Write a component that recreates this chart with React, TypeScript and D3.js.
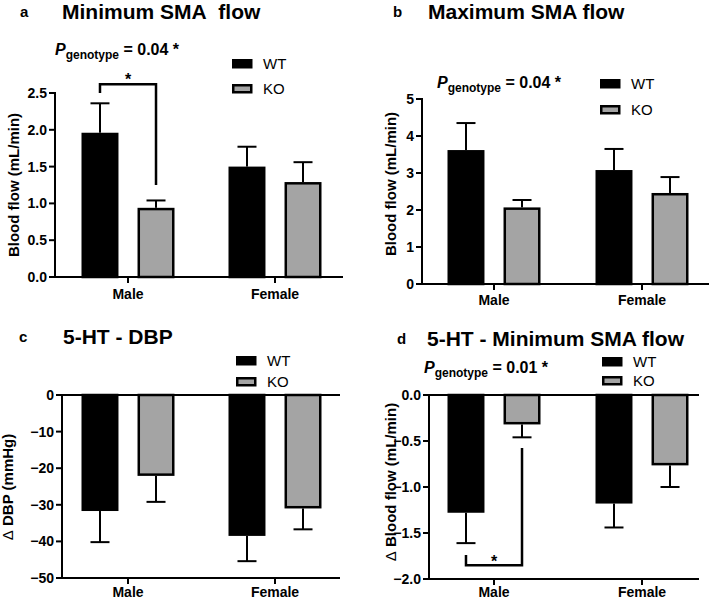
import * as d3 from "d3";

// categories
const groups = ["Male", "Female"];
const genotypes = ["WT", "KO"];

// a: minimum SMA flow (mL/min), mean and SEM
const minFlowWT = [1.96, 1.5];
const minFlowWTErr = [0.4, 0.27];
const minFlowKO = [0.94, 1.29];
const minFlowKOErr = [0.1, 0.27];

// b: maximum SMA flow (mL/min)
const maxFlowWT = [3.62, 3.08];
const maxFlowWTErr = [0.73, 0.57];
const maxFlowKO = [2.07, 2.46];
const maxFlowKOErr = [0.2, 0.43];

// c: 5-HT change in DBP (mmHg)
const dbpWT = [-31.7, -38.5];
const dbpWTErr = [8.5, 6.9];
const dbpKO = [-22.1, -31.0];
const dbpKOErr = [7.1, 5.7];

// d: 5-HT change in minimum SMA flow (mL/min)
const dMinWT = [-1.28, -1.18];
const dMinWTErr = [0.33, 0.26];
const dMinKO = [-0.32, -0.765];
const dMinKOErr = [0.14, 0.235];

// tick values
const ticksA = [0, 0.5, 1, 1.5, 2, 2.5];
const ticksB = [0, 1, 2, 3, 4, 5];
const ticksC = [0, -10, -20, -30, -40, -50];
const ticksD = [0, -0.5, -1, -1.5, -2];

const FONT = "'Liberation Sans', Arial, sans-serif";
const GRAY = "#a4a4a4";

type Bracket = { from: number; left: number; right: number; star: "above" | "below" };

type PanelProps = {
  letter: string;
  title: string;
  letterX: number;
  titleX: number;
  titleY: number;
  yLabel: string;
  delta?: boolean;
  yLabelX: number;
  yLabelY: number;
  axisX: number;
  xEnd: number;
  yRange: [number, number];
  domain: [number, number];
  ticks: number[];
  fmt: (v: number) => string;
  centers: [number, number];
  catY: number;
  wt: number[];
  wtErr: number[];
  ko: number[];
  koErr: number[];
  legendX: number;
  legendY: [number, number];
  pText?: string;
  pX?: number;
  pY?: number;
  bracket?: Bracket;
};

function Panel(p: PanelProps) {
  const y = d3.scaleLinear().domain(p.domain).range(p.yRange);
  const x = d3.scalePoint<string>().domain(groups).range(p.centers);
  const inner = d3.scaleBand<string>().domain(genotypes).range([-46.5, 46.5]).paddingInner(0.34);
  const bw = inner.bandwidth();
  const negative = p.domain[1] <= 0;
  const axisY = negative ? y(p.domain[0]) : y(0);
  const values: Record<string, number[][]> = {
    WT: [p.wt, p.wtErr],
    KO: [p.ko, p.koErr],
  };

  return (
    <g>
      <text x={p.letterX} y={p.titleY - 2} fontSize={15} fontWeight="bold">
        {p.letter}
      </text>
      <text x={p.titleX} y={p.titleY} fontSize={21} fontWeight="bold">
        {p.title}
      </text>

      {p.pText && (
        <text x={p.pX} y={p.pY} fontSize={16} fontWeight="bold">
          <tspan fontStyle="italic">P</tspan>
          <tspan fontSize={12} dy={4}>genotype</tspan>
          <tspan dy={-4}>{` = ${p.pText} *`}</tspan>
        </text>
      )}

      {/* legend */}
      {genotypes.map((g, i) => (
        <g key={g}>
          <rect
            x={p.legendX + 1.25}
            y={p.legendY[i] + 1.25}
            width={18}
            height={7}
            fill={g === "WT" ? "#000" : GRAY}
            stroke="#000"
            strokeWidth={2.5}
          />
          <text x={p.legendX + 31} y={p.legendY[i] + 9.5} fontSize={15}>
            {g}
          </text>
        </g>
      ))}

      {/* bars with error bars */}
      {groups.map((grp, gi) =>
        genotypes.map((g) => {
          const v = values[g][0][gi];
          const e = values[g][1][gi];
          const x0 = (x(grp) as number) + (inner(g) as number);
          const cx = x0 + bw / 2;
          const top = Math.min(y(v), y(0));
          const h = Math.abs(y(v) - y(0));
          const end = v >= 0 ? v + e : v - e;
          return (
            <g key={grp + g}>
              <line x1={cx} x2={cx} y1={y(v)} y2={y(end)} stroke="#000" strokeWidth={2} />
              <line x1={cx - 9.5} x2={cx + 9.5} y1={y(end)} y2={y(end)} stroke="#000" strokeWidth={2} />
              <rect
                x={x0 + 1.25}
                y={v >= 0 ? top + 1.25 : top}
                width={bw - 2.5}
                height={h - 1.25}
                fill={g === "WT" ? "#000" : GRAY}
                stroke="#000"
                strokeWidth={2.5}
              />
            </g>
          );
        })
      )}

      {/* significance bracket */}
      {p.bracket && (() => {
        const b = p.bracket;
        const lx = (x("Male") as number) + (inner("WT") as number) + bw / 2;
        const rx = (x("Male") as number) + (inner("KO") as number) + bw / 2;
        const path = `M${lx},${y(b.left)}V${y(b.from)}H${rx}V${y(b.right)}`;
        return (
          <g>
            <path d={path} fill="none" stroke="#000" strokeWidth={2.5} />
            <text
              x={(lx + rx) / 2}
              y={b.star === "above" ? y(b.from) + 1 : y(b.from) + 2}
              textAnchor="middle"
              fontSize={16}
              fontWeight="bold"
            >
              *
            </text>
          </g>
        );
      })()}

      {/* y axis */}
      <line x1={p.axisX} x2={p.axisX} y1={p.yRange[0] + 1} y2={p.yRange[1] - 1} stroke="#000" strokeWidth={2} />
      {p.ticks.map((t) => (
        <g key={t}>
          <line x1={p.axisX - 6} x2={p.axisX} y1={y(t)} y2={y(t)} stroke="#000" strokeWidth={2} />
          <text x={p.axisX - 8} y={y(t)} dy="0.36em" textAnchor="end" fontSize={14} fontWeight="bold">
            {p.fmt(t)}
          </text>
        </g>
      ))}
      <text
        transform={`translate(${p.yLabelX},${p.yLabelY}) rotate(-90)`}
        textAnchor="middle"
        fontSize={15}
        fontWeight="bold"
      >
        {p.delta && <tspan fontWeight="normal">{"\u0394\u00a0"}</tspan>}
        {p.yLabel}
      </text>

      {/* zero line for negative panels */}
      {negative && (
        <line x1={p.axisX - 1} x2={p.xEnd} y1={y(0)} y2={y(0)} stroke="#000" strokeWidth={2} />
      )}

      {/* x axis */}
      <line x1={p.axisX - 1} x2={p.xEnd} y1={axisY} y2={axisY} stroke="#000" strokeWidth={2} />
      {groups.map((grp) => (
        <g key={grp}>
          <line x1={x(grp)} x2={x(grp)} y1={axisY} y2={axisY + 6} stroke="#000" strokeWidth={2} />
          <text x={x(grp)} y={p.catY} textAnchor="middle" fontSize={14} fontWeight="bold">
            {grp}
          </text>
        </g>
      ))}
    </g>
  );
}

export default function App() {
  const f1 = d3.format(".1f");
  const f0 = d3.format("d");
  return (
    <svg
      width={709}
      height={602}
      style={{ position: "absolute", left: 0, top: 0, background: "#fff" }}
      fontFamily={FONT}
    >
      <rect width={709} height={602} fill="#fff" />
      <Panel
        letter="a"
        title={"Minimum SMA\u00a0 flow"}
        letterX={20}
        titleX={62}
        titleY={19}
        yLabel="Blood flow (mL/min)"
        yLabelX={19}
        yLabelY={185}
        axisX={55}
        xEnd={343}
        yRange={[277, 93]}
        domain={[0, 2.5]}
        ticks={ticksA}
        fmt={f1}
        centers={[128, 275]}
        catY={299}
        wt={minFlowWT}
        wtErr={minFlowWTErr}
        ko={minFlowKO}
        koErr={minFlowKOErr}
        legendX={232}
        legendY={[59, 84]}
        pText="0.04"
        pX={55}
        pY={55}
        bracket={{ from: 2.62, left: 2.5, right: 1.25, star: "above" }}
      />
      <Panel
        letter="b"
        title="Maximum SMA flow"
        letterX={393}
        titleX={428}
        titleY={19}
        yLabel="Blood flow (mL/min)"
        yLabelX={396}
        yLabelY={184}
        axisX={422}
        xEnd={709}
        yRange={[284, 99]}
        domain={[0, 5]}
        ticks={ticksB}
        fmt={f0}
        centers={[494, 642]}
        catY={305}
        wt={maxFlowWT}
        wtErr={maxFlowWTErr}
        ko={maxFlowKO}
        koErr={maxFlowKOErr}
        legendX={600}
        legendY={[79, 105]}
        pText="0.04"
        pX={437}
        pY={88}
      />
      <Panel
        letter="c"
        title="5-HT - DBP"
        letterX={19}
        titleX={63}
        titleY={344}
        yLabel="DBP (mmHg)"
        delta
        yLabelX={13}
        yLabelY={487}
        axisX={62}
        xEnd={340}
        yRange={[578, 395]}
        domain={[-50, 0]}
        ticks={ticksC}
        fmt={f0}
        centers={[128, 275]}
        catY={597}
        wt={dbpWT}
        wtErr={dbpWTErr}
        ko={dbpKO}
        koErr={dbpKOErr}
        legendX={236}
        legendY={[356, 377]}
      />
      <Panel
        letter="d"
        title="5-HT - Minimum SMA flow"
        letterX={397}
        titleX={427}
        titleY={346}
        yLabel="Blood flow (mL/min)"
        delta
        yLabelX={396}
        yLabelY={482}
        axisX={429}
        xEnd={699}
        yRange={[579, 395]}
        domain={[-2, 0]}
        ticks={ticksD}
        fmt={f1}
        centers={[494, 642]}
        catY={597}
        wt={dMinWT}
        wtErr={dMinWTErr}
        ko={dMinKO}
        koErr={dMinKOErr}
        legendX={602}
        legendY={[357, 376]}
        pText="0.01"
        pX={424}
        pY={373}
        bracket={{ from: -1.85, left: -1.74, right: -0.576, star: "below" }}
      />
    </svg>
  );
}
